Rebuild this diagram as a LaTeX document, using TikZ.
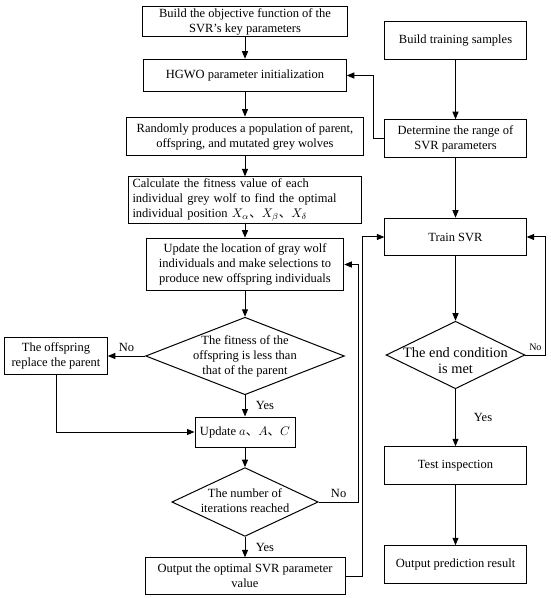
\documentclass[tikz,border=0pt]{standalone}
\usepackage{fontspec}
\setmainfont{Liberation Serif}
\newfontfamily\cjk{Noto Sans CJK SC}
\usepackage{tikz}
\usetikzlibrary{positioning,arrows.meta,shapes.geometric}
% text of a decision node, kept out of the diamond's size
\newcommand{\dtxt}[2][0pt]{\makebox[0pt]{\smash{\raisebox{\dimexpr-2.5pt-#1\relax}{\begin{tabular}{@{}c@{}}#2\end{tabular}}}}}

\begin{document}
\begin{tikzpicture}[
  x=0.8pt, y=-0.8pt,
  font=\fontsize{10}{12}\selectfont, line width=0.8pt,
  box/.style={draw,align=center,inner xsep=3pt,inner ysep=1pt},
  rbox/.style={box,minimum width=113pt,minimum height=30pt},
  dec/.style={draw,diamond,inner sep=0pt},
  flow/.style={-{Triangle[length=6pt,width=4.8pt]}},
]
\useasboundingbox (0,0) rectangle (550,598);
% HGWO optimisation
\node[box,minimum width=164pt,minimum height=24pt] (obj) at (245,22) {Build the objective function of the\\SVR's key parameters};
\node[box,minimum width=162pt,minimum height=26pt] (init) at (245,75.5) {HGWO parameter initialization};
\node[box,minimum width=190pt,minimum height=31pt] (pop) at (245,136.5) {Randomly produces a population of parent,\\offspring, and mutated grey wolves};
\node[box,align=left,text width=180pt,minimum height=37pt] (fit) at (245,200) {Calculate the fitness value of each\\individual grey wolf to find the optimal\\individual position $X_\alpha$\cjk{、}$X_\beta$\cjk{、}$X_\delta$};
\node[box,minimum width=158pt,minimum height=42pt] (upd) at (245,264.5) {Update the location of gray wolf\\individuals and make selections to\\produce new offspring individuals};
\node[dec,minimum width=159pt,minimum height=62pt] (cmp) at (245,356) {\dtxt{The fitness of the\\offspring is less than\\that of the parent}};
\node[box,minimum width=82pt,minimum height=30pt] (rep) at (56,356) {The offspring\\replace the parent};
\node[box,minimum width=80pt,minimum height=24pt] (coef) at (245,432) {Update $a$\cjk{、}$A$\cjk{、}$C$};
\node[dec,minimum width=117pt,minimum height=55pt] (iter) at (245,502) {\dtxt{The number of\\iterations reached}};
\node[box,minimum width=160pt,minimum height=29pt] (best) at (245,576) {Output the optimal SVR parameter\\value};
% SVR training
\node[rbox] (samp)  at (455.5,40.5)  {Build training samples};
\node[rbox] (range) at (455.5,138.5) {Determine the range of\\SVR parameters};
\node[rbox] (train) at (455.5,237)   {Train SVR};
\node[dec,minimum width=111pt,minimum height=54pt] (stop) at (455.5,355) {\fontsize{11.5}{13}\selectfont\dtxt[6pt]{The end condition\\is met}};
\node[rbox] (test)  at (455.5,465.5) {Test inspection};
\node[rbox] (pred)  at (455.5,564.5) {Output prediction result};
% connectors
\draw[flow] (obj) -- (init);
\draw[flow] (init) -- (pop);
\draw[flow] (pop) -- (fit);
\draw[flow] (fit) -- (upd);
\draw[flow] (upd) -- (cmp);
\draw[flow] (cmp.west) -- node[above]{No} (rep.east);
\draw[flow] (cmp.south) -- node[right=5pt]{Yes} (coef.north);
\draw[flow] (rep.south) |- (coef.west);
\draw[flow] (coef) -- (iter);
\draw[flow] (iter.south) -- node[right=5pt]{Yes} (best.north);
\draw[flow] (iter.east) -- node[above]{No} ++(40,0) |- (upd.east);
\draw[flow] (best.east) -- ++(17,0) |- (train.west);
\draw[flow] (samp) -- (range);
\draw[flow] (range.west) -- ++(-11,0) |- (init.east);
\draw[flow] (range) -- (train);
\draw[flow] (train) -- (stop);
\draw[flow] (stop.east) -- node[above,font=\footnotesize]{No} ++(20,0) |- (train.east);
\draw[flow] (stop.south) -- node[right=11pt]{Yes} (test.north);
\draw[flow] (test) -- (pred);
\end{tikzpicture}
\end{document}
